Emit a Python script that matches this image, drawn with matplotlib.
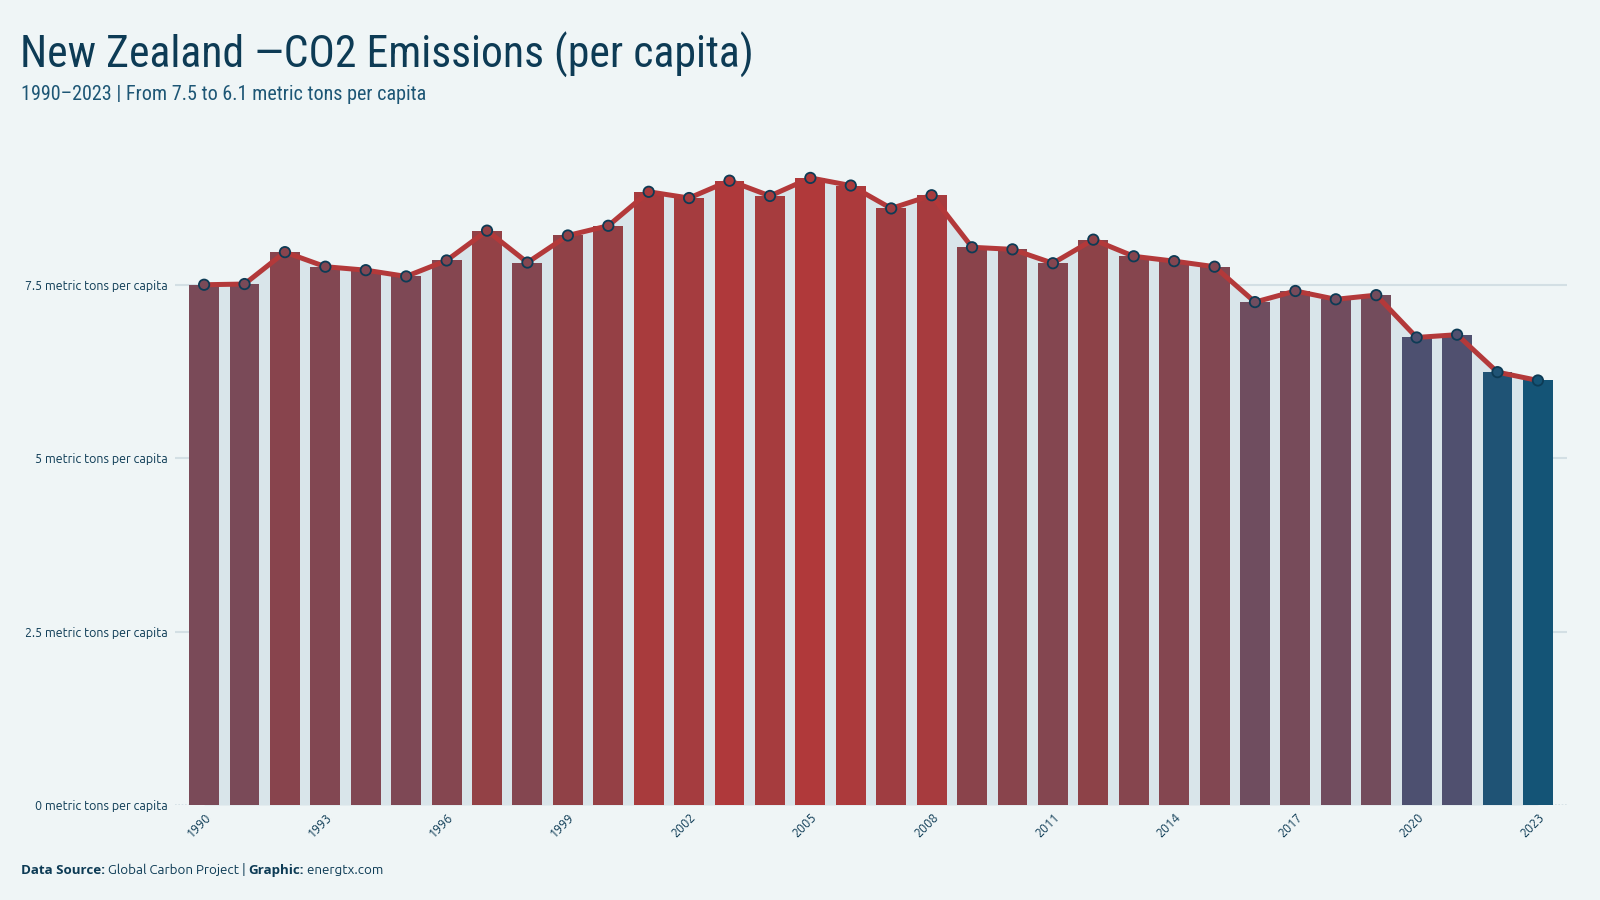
import matplotlib
matplotlib.use("Agg")
import matplotlib.pyplot as plt
import numpy as np
from matplotlib import font_manager
from matplotlib.colors import LinearSegmentedColormap, Normalize

years = list(range(1990, 2024))
values = [7.50, 7.51, 7.97, 7.76, 7.71, 7.62, 7.85, 8.28, 7.82, 8.21,
          8.35, 8.84, 8.75, 9.00, 8.78, 9.04, 8.93, 8.60, 8.79, 8.04,
          8.01, 7.81, 8.15, 7.91, 7.84, 7.76, 7.25, 7.41, 7.29, 7.35,
          6.74, 6.78, 6.24, 6.12]
ytick_vals = [0, 2.5, 5, 7.5]
ytick_labels = ["0 metric tons per capita", "2.5 metric tons per capita",
                "5 metric tons per capita", "7.5 metric tons per capita"]
xtick_years = list(range(1990, 2024, 3))

title = "New Zealand \u2014CO2 Emissions (per capita)"
subtitle = "1990\u20132023 | From 7.5 to 6.1 metric tons per capita"

BG = "#eff5f6"
AREA = "#d9e5ea"
GRID = "#d3dfe4"
NAVY = "#0d3b55"
SUB = "#1d5675"
LINE = "#b3393a"

ttf = font_manager.fontManager.ttflist
avail = {f.name for f in ttf}
cond = {(f.name, f.stretch) for f in ttf}

def pick(cands, default):
    for c in cands:
        if c in avail:
            return c
    return default

def has_bold(name):
    for f in ttf:
        if f.name == name:
            w = f.weight
            if isinstance(w, str):
                if "bold" in w.lower() or w.lower() in ("heavy", "black"):
                    return True
            elif w >= 600:
                return True
    return False

title_family = pick(["Ubuntu Condensed", "Roboto Condensed", "Open Sans Condensed",
                     "Liberation Sans Narrow"], None)
title_stretch = "normal"
if title_family is None:
    if any(n == "DejaVu Sans" and s in ("condensed", "semi-condensed") for n, s in cond):
        title_family = "DejaVu Sans"
        title_stretch = "condensed"
    else:
        title_family = pick(["Roboto", "Open Sans"], "DejaVu Sans")
body_family = pick(["Ubuntu", "Open Sans", "Noto Sans"], "DejaVu Sans")
bold_family = body_family
if not has_bold(body_family):
    for c in ["Open Sans", "Noto Sans", "Lato", "DejaVu Sans"]:
        if c in avail and has_bold(c):
            bold_family = c
            break

plt.rcParams["font.family"] = [body_family, "DejaVu Sans"]

cmap = LinearSegmentedColormap.from_list(
    "nz", [(0.0, "#145476"), (0.21, "#4d5070"), (0.385, "#6f4d5f"),
           (0.47, "#7a4a58"), (0.70, "#8e4248"), (1.0, "#b0393a")])
norm = Normalize(vmin=min(values), vmax=max(values))
colors = [cmap(norm(v)) for v in values]

fig = plt.figure(figsize=(16, 9), dpi=100)
fig.patch.set_facecolor(BG)
ax = fig.add_axes([175 / 1600, 1 - 805 / 900, (1567 - 175) / 1600, (805 - 146) / 900])
ax.set_facecolor(BG)

x = np.arange(len(years))
ax.fill_between(x, 0, values, color=AREA, zorder=1, lw=0)
ax.bar(x, values, width=0.74, color=colors, zorder=2, lw=0)
ax.plot(x, values, color=LINE, lw=3.6, zorder=3, solid_joinstyle="round")
ax.scatter(x, values, s=56, c=colors, edgecolors=NAVY, linewidths=1.3, zorder=4)

for yv in ytick_vals[1:]:
    ax.axhline(yv, color=GRID, lw=1.5, zorder=0.5)
ax.axhline(0, color=GRID, lw=1.2, ls=(0, (1, 1)), zorder=0.5)

ax.set_xlim(-0.72, len(years) - 1 + 0.72)
ax.set_ylim(0, 9.5)
ax.set_yticks(ytick_vals)
ax.set_yticklabels(ytick_labels, fontsize=9, color=NAVY)
ax.set_xticks([years.index(y) for y in xtick_years])
ax.set_xticklabels([str(y) for y in xtick_years], fontsize=9, color=NAVY,
                   rotation=45, ha="right", rotation_mode="anchor")
ax.tick_params(axis="both", length=0)
ax.tick_params(axis="y", pad=5.5)
ax.tick_params(axis="x", pad=4)
for s in ax.spines.values():
    s.set_visible(False)

fig.text(20 / 1600, 1 - 68 / 900, title, fontsize=31.5, color=NAVY,
         family=[title_family, "DejaVu Sans"], stretch=title_stretch, va="baseline", ha="left")
fig.text(21 / 1600, 1 - 100 / 900, subtitle, fontsize=14.5, color=SUB,
         family=[title_family, "DejaVu Sans"], stretch=title_stretch, va="baseline", ha="left")

# footer with mixed weights
fig.canvas.draw()
renderer = fig.canvas.get_renderer()
parts = [("Data Source:", "bold"), (" Global Carbon Project | ", "normal"),
         ("Graphic:", "bold"), (" energtx.com", "normal")]
xpos = 21
for txt, w in parts:
    fam = bold_family if w == "bold" else body_family
    t = fig.text(xpos / 1600, 1 - 874 / 900, txt, fontsize=9.6, color=NAVY,
                 fontweight=w, family=[fam, "DejaVu Sans"], va="baseline", ha="left")
    bb = t.get_window_extent(renderer=renderer)
    xpos += bb.width

fig.savefig("out.png", dpi=100, facecolor=BG)
